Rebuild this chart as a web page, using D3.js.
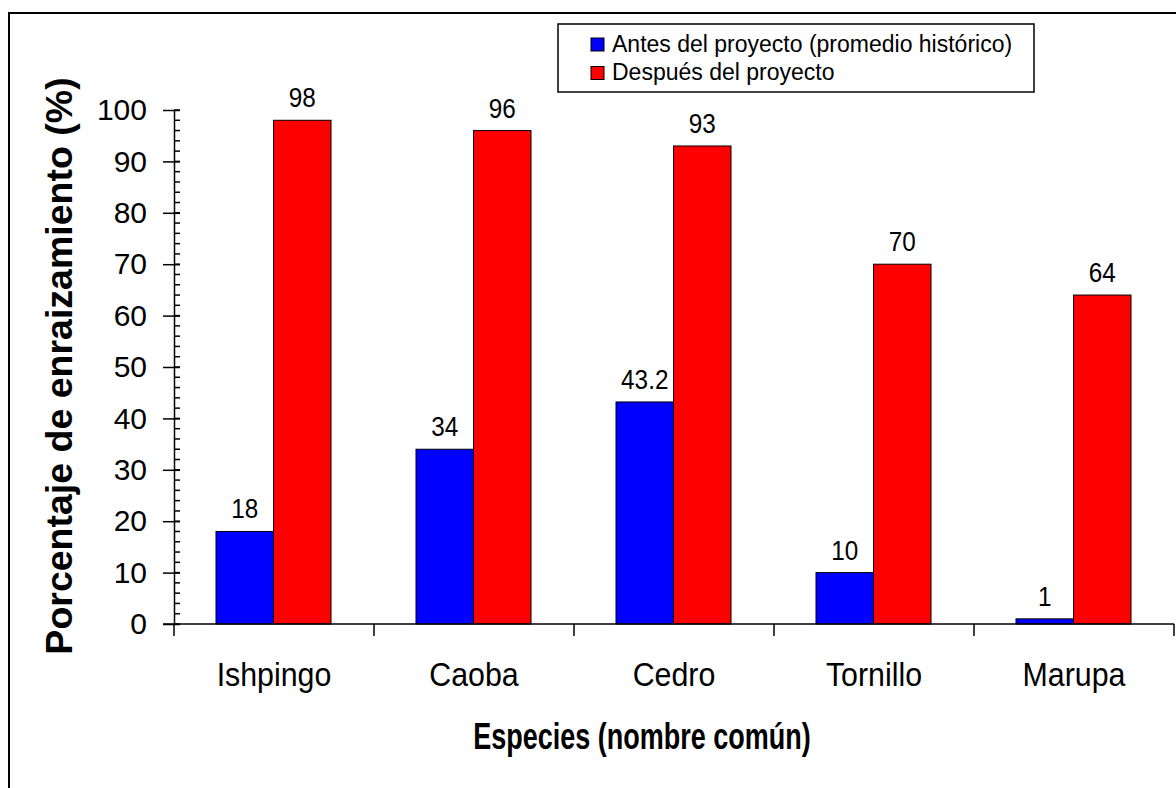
<!DOCTYPE html>
<html>
<head>
<meta charset="utf-8">
<script src="https://cdn.jsdelivr.net/npm/d3@7"></script>
<style>
  html, body { margin: 0; padding: 0; background: #fff; }
  svg { display: block; font-family: "Liberation Sans", Arial, sans-serif; }
</style>
</head>
<body>
<svg id="chart" width="1176" height="788"></svg>
<script>
const categories = ["Ishpingo", "Caoba", "Cedro", "Tornillo", "Marupa"];
const seriesNames = ["Antes del proyecto (promedio histórico)", "Después del proyecto"];
const antes = [18, 34, 43.2, 10, 1];
const despues = [98, 96, 93, 70, 64];
const antesLabels = ["18", "34", "43.2", "10", "1"];
const despuesLabels = ["98", "96", "93", "70", "64"];
const yTicks = [0, 10, 20, 30, 40, 50, 60, 70, 80, 90, 100];
const colors = ["#0000ff", "#ff0000"];

const svg = d3.select("#chart");

// outer frame
svg.append("rect").attr("x", 9).attr("y", 13).attr("width", 1200).attr("height", 800)
  .attr("fill", "none").attr("stroke", "#000").attr("stroke-width", 2);

const x0 = d3.scaleBand().domain(categories).range([174, 1174]).paddingInner(0).paddingOuter(0);
const x1 = d3.scaleBand().domain([0, 1]).range([42, 157]);
const y = d3.scaleLinear().domain([0, 100]).range([624, 110]);

const data = categories.map((c, i) => ({cat: c, vals: [antes[i], despues[i]], labels: [antesLabels[i], despuesLabels[i]]}));

// bars
const g = svg.append("g");
data.forEach(d => {
  d.vals.forEach((v, j) => {
    g.append("rect")
      .attr("x", x0(d.cat) + x1(j))
      .attr("y", y(v))
      .attr("width", x1.bandwidth())
      .attr("height", y(0) - y(v))
      .attr("fill", colors[j])
      .attr("stroke", "#000")
      .attr("stroke-width", 1);
    const cx = x0(d.cat) + x1(j) + x1.bandwidth() / 2;
    g.append("text")
      .attr("transform", `translate(${cx},${y(v) - 13}) scale(0.9,1)`)
      .attr("text-anchor", "middle")
      .attr("font-size", 27)
      .attr("fill", "#000")
      .text(d.labels[j]);
  });
});

// y axis minor ticks
const minor = d3.range(0, 101, 2);
const yAxisG = svg.append("g");
minor.forEach(t => {
  yAxisG.append("line").attr("x1", 174).attr("x2", 180).attr("y1", y(t)).attr("y2", y(t))
    .attr("stroke", "#000").attr("stroke-width", 1.5);
});
const yAxis = d3.axisLeft(y).tickValues(yTicks).tickSizeInner(11).tickSizeOuter(0).tickPadding(16);
const ya = svg.append("g").attr("transform", "translate(174,0)").call(yAxis);
ya.select(".domain").attr("stroke-width", 1.5);
ya.selectAll(".tick line").attr("stroke-width", 1.5).attr("x2", 6).attr("x1", -11);
ya.selectAll(".tick text").attr("font-size", 30).attr("font-family", "Liberation Sans, Arial, sans-serif").attr("fill", "#000");

// x axis
svg.append("line").attr("x1", 163).attr("x2", 1174).attr("y1", 624).attr("y2", 624)
  .attr("stroke", "#000").attr("stroke-width", 1.5);
const bounds = categories.map(c => x0(c)).concat([x0.range()[1]]);
bounds.forEach(b => {
  svg.append("line").attr("x1", b).attr("x2", b).attr("y1", 624).attr("y2", 636)
    .attr("stroke", "#000").attr("stroke-width", 1.5);
});
categories.forEach(c => {
  svg.append("text").attr("transform", `translate(${x0(c) + x0.bandwidth() / 2},686) scale(0.92,1)`)
    .attr("text-anchor", "middle").attr("font-size", 33).attr("fill", "#000").text(c);
});

// axis titles
svg.append("text").attr("transform", "translate(642,749) scale(0.75,1)").attr("text-anchor", "middle")
  .attr("font-size", 36).attr("font-weight", "bold").attr("fill", "#000")
  .text("Especies (nombre común)");
svg.append("text").attr("transform", "translate(72,366) rotate(-90)")
  .attr("text-anchor", "middle").attr("font-size", 37.5).attr("font-weight", "bold").attr("fill", "#000")
  .text("Porcentaje de enraizamiento (%)");

// legend
svg.append("rect").attr("x", 558).attr("y", 24).attr("width", 476).attr("height", 68)
  .attr("fill", "#fff").attr("stroke", "#000").attr("stroke-width", 1.5);
seriesNames.forEach((s, i) => {
  const cy = 44.5 + i * 28.5;
  svg.append("rect").attr("x", 591).attr("y", cy - 6.5).attr("width", 13).attr("height", 13)
    .attr("fill", colors[i]).attr("stroke", "#000").attr("stroke-width", 1);
  svg.append("text").attr("x", 612).attr("y", cy + 7).attr("font-size", 23).attr("fill", "#000").text(s);
});
</script>
</body>
</html>
